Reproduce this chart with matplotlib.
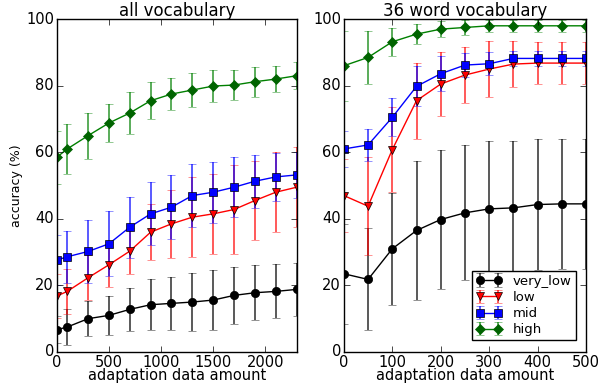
import matplotlib
matplotlib.use("Agg")
import matplotlib.pyplot as plt

# all vocabulary
x_all = [0, 100, 300, 500, 700, 900, 1100, 1300, 1500, 1700, 1900, 2100, 2300]
all_very_low = [6.7, 7.5, 10.0, 11.0, 12.8, 14.2, 14.6, 15.0, 15.6, 17.0, 17.8, 18.2, 18.8]
all_very_low_err = [4.0, 5.5, 5.3, 5.8, 6.5, 7.7, 8.0, 8.8, 9.0, 8.5, 8.3, 8.1, 8.0]
all_low = [16.8, 18.2, 22.3, 26.2, 30.3, 36.0, 38.5, 40.5, 41.5, 42.8, 45.5, 48.0, 49.5]
all_low_err = [6.5, 6.7, 6.7, 6.8, 7.0, 8.5, 10.2, 12.0, 12.0, 13.3, 12.0, 12.0, 12.0]
all_mid = [27.6, 28.6, 30.2, 32.5, 37.5, 41.5, 43.5, 47.0, 48.0, 49.5, 51.3, 52.6, 53.2]
all_mid_err = [7.5, 7.8, 9.4, 9.8, 9.2, 9.5, 9.6, 9.5, 9.2, 9.0, 8.0, 7.3, 7.0]
all_high = [58.5, 61.0, 65.0, 68.8, 71.8, 75.5, 77.5, 78.7, 79.9, 80.2, 81.2, 82.0, 83.0]
all_high_err = [8.0, 7.6, 6.9, 5.6, 6.3, 5.5, 4.9, 5.2, 4.8, 4.5, 4.5, 3.9, 4.0]

# 36 word vocabulary
x_36 = [0, 50, 100, 150, 200, 250, 300, 350, 400, 450, 500]
w36_very_low = [23.5, 21.8, 31.0, 36.5, 39.8, 41.8, 43.0, 43.3, 44.3, 44.5, 44.5]
w36_very_low_err = [15.0, 15.3, 16.8, 21.0, 21.0, 20.3, 20.4, 20.0, 19.6, 19.6, 19.6]
w36_low = [47.0, 43.8, 60.8, 75.5, 80.5, 83.2, 85.0, 86.5, 86.8, 86.8, 86.8]
w36_low_err = [11.0, 14.7, 12.7, 11.4, 9.5, 8.5, 8.3, 7.0, 6.3, 6.3, 6.3]
w36_mid = [61.0, 62.2, 70.5, 79.8, 83.6, 86.2, 86.6, 88.2, 88.2, 88.2, 88.2]
w36_mid_err = [5.3, 4.7, 5.7, 6.0, 5.2, 3.5, 3.5, 2.3, 2.3, 2.3, 2.3]
w36_high = [86.0, 88.5, 93.2, 95.5, 97.0, 97.5, 98.0, 98.0, 98.0, 98.0, 98.0]
w36_high_err = [10.5, 8.0, 4.2, 3.0, 2.5, 2.2, 1.8, 1.8, 1.8, 1.8, 1.8]

labels = ["very_low", "low", "mid", "high"]
colors = ["k", "r", "b", "g"]
markers = ["o", "v", "s", "D"]

plt.style.use("classic")
plt.rcParams["font.family"] = "DejaVu Sans"

fig = plt.figure(figsize=(5.98, 3.83), dpi=100)
fig.patch.set_facecolor("white")
ax1 = fig.add_axes([0.095, 0.081, 0.401, 0.869])
ax2 = fig.add_axes([0.575, 0.081, 0.405, 0.869])

panels = [
    (ax1, x_all, [all_very_low, all_low, all_mid, all_high],
     [all_very_low_err, all_low_err, all_mid_err, all_high_err], "all vocabulary", 2300),
    (ax2, x_36, [w36_very_low, w36_low, w36_mid, w36_high],
     [w36_very_low_err, w36_low_err, w36_mid_err, w36_high_err], "36 word vocabulary", 500),
]

for ax, xs, ys, errs, title, xmax in panels:
    for y, e, lab, c, m in zip(ys, errs, labels, colors, markers):
        mfc = "darkgreen" if c == "g" else c
        cont = ax.errorbar(xs, y, yerr=e, color=c, marker=m, markersize=6 if m != "D" else 5,
                           markerfacecolor=mfc, markeredgecolor="k" if m != "D" else "darkgreen",
                           ecolor=c, elinewidth=1.3, capsize=3, lw=1, label=lab)
        for cap in cont[1]:
            cap.set_alpha(0.6)
        for bar in cont[2]:
            bar.set_alpha(0.7)
    ax.set_xlim(0, xmax)
    ax.set_ylim(0, 100)
    ax.set_title(title, fontsize=12, pad=2)
    ax.set_xlabel("adaptation data amount", fontsize=10.5, labelpad=-1)
    ax.tick_params(labelsize=10.5, pad=2)

ax1.set_xticks([0, 500, 1000, 1500, 2000])
ax1.set_ylabel("accuracy (%)", fontsize=9, labelpad=2)
ax2.set_xticks([0, 100, 200, 300, 400, 500])

leg = ax2.legend(loc="lower right", numpoints=2, fontsize=9.5, handlelength=2.0,
                 borderpad=0.3, labelspacing=0.25, fancybox=False,
                 bbox_to_anchor=(0.985, 0.015))

fig.savefig("out.png", dpi=100)
